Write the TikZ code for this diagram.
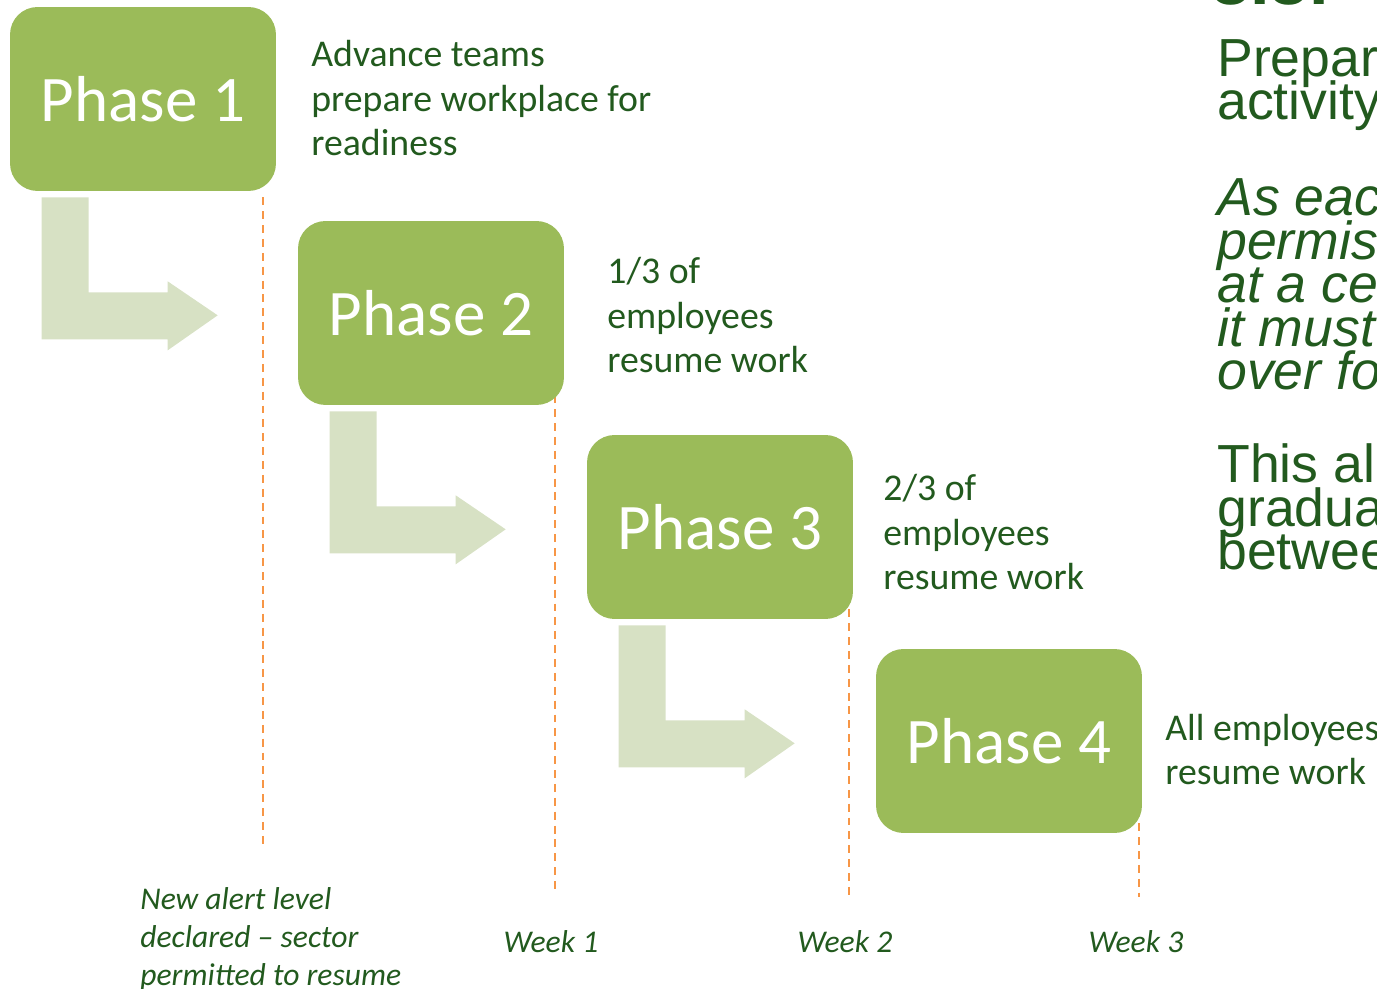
\documentclass[tikz,border=0pt]{standalone}
\usepackage{fontspec}
\usepackage{tikz}
\setmainfont{Carlito}
\newfontfamily\arialfont{Liberation Sans}
\newcommand\tightlines{\lineskiplimit=-100pt\relax}
\definecolor{phgreen}{RGB}{155, 187, 89}
\definecolor{phlight}{RGB}{215, 225, 196}
\definecolor{phdark}{RGB}{34, 90, 30}
\definecolor{phorange}{RGB}{247, 150, 70}

\begin{document}
\begin{tikzpicture}[x=0.02cm, y=-0.02cm,
    phase/.style={fill=phgreen, rounded corners=0.55cm, minimum width=5.32cm,
        minimum height=3.68cm, inner sep=0pt, text=white,
        font=\fontsize{37}{42}\selectfont},
    note/.style={anchor=base west, inner sep=0pt, align=left, text=phdark,
        font=\fontsize{21.5}{25.6}\selectfont},
    weeknote/.style={anchor=base, inner sep=0pt, text=phdark,
        font=\fontsize{18}{21.6}\selectfont\itshape},
    sidetext/.style={anchor=base west, inner sep=0pt, align=left, text=phdark,
        font=\fontsize{30.5}{24.8}\selectfont\arialfont\tightlines},
    timeline/.style={phorange, line width=1.6pt, dash pattern=on 4.5pt off 3.4pt}]
\clip (0,0) rectangle (1377,989);

% Phase boxes (only placed here, filled after the time lines)
\foreach \i/\x/\y in {1/143/99, 2/431/313, 3/720/527, 4/1009/741} {
    \node[phase, fill=none] (ph\i) at (\x,\y) {};
}

% Dashed time lines
\coordinate (t1) at (263,845);
\coordinate (t2) at (555,892);
\coordinate (t3) at (849,898);
\coordinate (t4) at (1139,897);
\foreach \i/\s in {1/6, 2/-10, 3/-10, 4/-10} {
    \coordinate (top\i) at (t\i |- ph\i.south);
    \draw[timeline] ([yshift=-\s*0.02cm]top\i) -- (t\i);
}

% Boxes on top of the lines
\foreach \i in {1,...,4} {
    \node[phase] at (ph\i) {Phase \i};
}

% Bent arrows from one phase to the next
\foreach \i in {1,2,3} {
    \fill[phlight, shift={(ph\i.south west)}]
        (32,6) -- (79,6) -- (79,101) -- (158,101) -- (158,90) -- (208,124)
        -- (158,159) -- (158,148) -- (32,148) -- cycle;
}

% What happens in each phase (anchored on the last line)
\node[note] (n1) at (311,156) {Advance teams\\prepare workplace for\\readiness};
\node[note] (n2) at (607,373) {1/3 of\\employees\\resume work};
\node[note] (n3) at (883,590) {2/3 of\\employees\\resume work};
\node[note] (n4) at (1165,785) {All employees\\resume work};

% Time axis labels
\node[weeknote, anchor=base west, align=left] (start) at (140,985)
    {New alert level\\declared -- sector\\permitted to resume};
\node[weeknote] (w1) at (551,952) {Week 1};
\node[weeknote] (w2) at (845,952) {Week 2};
\node[weeknote] (w3) at (1136,952) {Week 3};

% Text column on the right (cut off by the slide edge)
\node[anchor=base west, inner sep=0pt, text=phdark,
    font=\fontsize{40}{40}\selectfont\arialfont\bfseries] (title) at (1211,5) {3.3.};
\node[sidetext] (s1) at (1217,120) {Prepar\\activity};
\node[sidetext, font=\fontsize{30.5}{24.8}\selectfont\arialfont\itshape\tightlines]
    (s2) at (1217,390) {As eac\\permis\\at a ce\\it must\\over fo};
\node[sidetext] (s3) at (1217,570) {This all\\gradua\\betwee};
\end{tikzpicture}
\end{document}
